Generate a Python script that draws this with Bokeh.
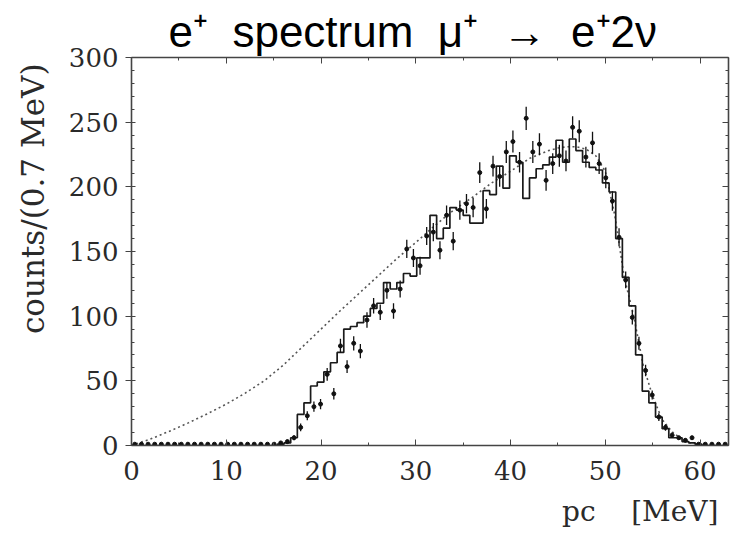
from bokeh.plotting import figure
from bokeh.models import (Range1d, LinearAxis, Title, SingleIntervalTicker,
                          ColumnDataSource, CustomJSTickFormatter)
from bokeh.embed import file_html
from bokeh.resources import INLINE

# ---------------- data ----------------
bin_width = 0.7          # MeV
n_bins = 90              # 0 .. 63 MeV

# histogram (Monte Carlo), counts per 0.7 MeV bin
hist_counts = [0] * 22 + [
    1, 2, 6, 24, 33, 46, 49, 57, 64, 72,
    90, 92, 95, 100, 106, 110, 126, 121, 126, 133,
    131, 145, 145, 178, 160, 168, 184, 182, 178, 172,
    172, 197, 194, 216, 199, 224, 219, 191, 207, 214,
    217, 223, 236, 219, 237, 228, 219, 215, 213, 203,
    196, 160, 130, 108, 70, 42, 33, 22, 13, 6,
    6, 3, 2, 1, 0, 0, 0, 0,
]

# measured points, counts per bin
data_counts = [1] * 21 + [
    1, 2, 3, 6, 14, 23, 30, 32, 55, 40,
    77, 61, 79, 73, 97, 108, 103, 120, 104, 121,
    152, 145, 139, 162, 165, 151, 178, 158, 182, 187,
    184, 211, 183, 216, 208, 227, 235, 219, 253, 227,
    233, 205, 218, 224, 220, 246, 243, 223, 234, 218,
    207, 189, 161, 128, 99, 79, 58, 39, 22, 14,
    8, 6, 4, 6, 1, 1, 1, 1, 1,
]

# half length of the error bars
data_errors = [0] * 22 + [
    1, 1.5, 2, 3, 3.5, 4, 4, 5, 4.5,
    5.5, 5, 5.5, 5.5, 6, 6, 6, 6.5, 6, 6.5,
    7, 7, 7, 7, 7, 7, 7.5, 7, 7.5, 7.5,
    7.5, 8, 7.5, 8, 8, 8.5, 8.5, 8, 9, 8.5,
    8.5, 8, 8, 8.5, 8, 8.5, 8.5, 8, 8.5, 8,
    8, 7.5, 7, 6.5, 5.5, 5, 4.5, 3.5, 3, 2.5,
    2, 1.5, 1.5, 1.5, 1, 0, 0, 0, 0,
]

# dotted curve (expected spectrum without acceptance cut)
curve_x = [0, 2, 4, 6, 8, 10, 12, 14, 16, 18, 20, 22, 24, 26, 28, 30, 32, 34, 36, 38,
           40, 42, 44, 45, 46, 47, 48, 49, 50, 51, 52, 53, 54, 55, 56, 57, 58, 59, 60, 61, 62, 63]
curve_y = [0, 5, 11, 17.5, 24.5, 32, 40.5, 50, 62, 76, 90, 104, 117.5, 131, 144.5, 157, 170, 182, 192, 203,
           212, 222, 228, 230, 231, 231, 229, 224, 212, 178, 130, 100, 62, 38, 20, 11, 5, 2, 0.5, 0, 0, 0]

title_text = "e\u207a\u00a0 spectrum\u00a0 \u03bc\u207a\u00a0 \u2192\u00a0 e\u207a2\u03bd"
y_label_text = "counts/(0.7 MeV)"
x_label_text = "pc \u00a0\u00a0\u00a0[MeV]"

# ---------------- derived positions ----------------
edges = [bin_width * i for i in range(n_bins + 1)]
centers = [bin_width * (i + 0.5) for i in range(n_bins)]
step_y = hist_counts + [hist_counts[-1]]

src = ColumnDataSource(dict(
    x=centers,
    y=data_counts,
    lo=[v - e for v, e in zip(data_counts, data_errors)],
    hi=[v + e for v, e in zip(data_counts, data_errors)],
))

p = figure(width=730, height=538,
           x_range=Range1d(0, 63), y_range=Range1d(0, 300),
           output_backend="svg", toolbar_location=None,
           min_border_left=131, min_border_right=2,
           min_border_top=57, min_border_bottom=93)
p.grid.visible = False
p.outline_line_color = None
p.background_fill_color = "white"
p.border_fill_color = "white"

serif = "DejaVu Serif"
axis_col = "#444444"
text_col = "#2a2a2a"

# bottom axis
xa = p.xaxis[0]
xa.ticker = SingleIntervalTicker(interval=10, num_minor_ticks=2)
xa.major_label_text_font = serif
xa.major_label_text_font_size = "26px"
xa.major_label_text_color = text_col
xa.major_label_standoff = 15
xa.axis_line_color = axis_col
xa.axis_line_width = 1.6
xa.major_tick_in = 6
xa.major_tick_out = 0
xa.minor_tick_in = 3
xa.minor_tick_out = 0
xa.major_tick_line_color = axis_col
xa.minor_tick_line_color = axis_col

# left axis
ya = p.yaxis[0]
ya.ticker = SingleIntervalTicker(interval=50, num_minor_ticks=5)
ya.major_label_text_font = serif
ya.major_label_text_font_size = "26px"
ya.major_label_text_color = text_col
ya.major_label_standoff = 7
ya.axis_line_color = axis_col
ya.axis_line_width = 1.6
ya.major_tick_in = 4
ya.major_tick_out = 6
ya.minor_tick_in = 3
ya.minor_tick_out = 0
ya.major_tick_line_color = axis_col
ya.minor_tick_line_color = axis_col

blank = CustomJSTickFormatter(code="return ''")

# top and right axes (ticks only)
top = LinearAxis(ticker=SingleIntervalTicker(interval=10, num_minor_ticks=2),
                 formatter=blank, major_label_standoff=0,
                 major_tick_in=6, major_tick_out=0, minor_tick_in=3, minor_tick_out=0,
                 axis_line_color=axis_col, axis_line_width=1.6,
                 major_tick_line_color=axis_col, minor_tick_line_color=axis_col)
right = LinearAxis(ticker=SingleIntervalTicker(interval=50, num_minor_ticks=5),
                   formatter=blank, major_label_standoff=0,
                   major_tick_in=6, major_tick_out=0, minor_tick_in=3, minor_tick_out=0,
                   axis_line_color=axis_col, axis_line_width=1.6,
                   major_tick_line_color=axis_col, minor_tick_line_color=axis_col)
p.add_layout(top, "above")
p.add_layout(right, "right")

# title and axis titles
p.add_layout(Title(text=title_text, text_font="Liberation Sans", text_font_size="44px",
                   text_font_style="normal", text_color="black",
                   align="left", offset=37, standoff=4), "above")
p.add_layout(Title(text=y_label_text, text_font=serif, text_font_size="31px",
                   text_font_style="normal", text_color=text_col,
                   align="right", offset=6, vertical_align="top", standoff=25), "left")
p.add_layout(Title(text=x_label_text, text_font=serif, text_font_size="28px",
                   text_font_style="normal", text_color=text_col,
                   align="right", offset=10, vertical_align="bottom", standoff=20), "below")

# dotted curve
p.line(curve_x, curve_y, line_color="#555555", line_width=1.6, line_dash="2 3")

# histogram
p.step(edges, step_y, mode="after", line_color="#1a1a1a", line_width=1.7)

# data with error bars
p.segment(x0="x", y0="lo", x1="x", y1="hi", source=src, line_color="#111111", line_width=1.3)
p.scatter(x="x", y="y", source=src, size=4, marker="circle",
          fill_color="#111111", line_color="#111111")

open("out.html", "w").write(file_html(p, INLINE))
